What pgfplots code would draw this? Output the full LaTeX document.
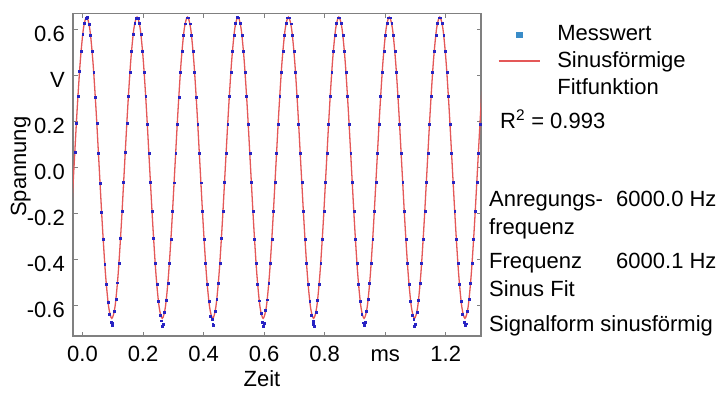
\documentclass[border=0pt]{standalone}
\usepackage{fontspec}
\setmainfont{Liberation Sans}
\usepackage{pgfplots}
\pgfplotsset{compat=1.18}
\definecolor{axgray}{RGB}{128,128,128}
\definecolor{fitred}{RGB}{228,88,88}
\definecolor{dotblue}{RGB}{40,35,195}
\definecolor{legsq}{RGB}{58,140,200}
\newcommand\f{\fontsize{22}{26}\selectfont}
\begin{document}
\begin{tikzpicture}
\useasboundingbox (0,0) rectangle (722pt,392pt);
\begin{axis}[
  at={(73pt,56pt)}, anchor=south west,
  width=408pt, height=322.5pt, scale only axis,
  xmin=-0.0314, xmax=1.3165, ymin=-0.7317, ymax=0.6704,
  xtick={0,0.2,0.4,0.6,0.8,1.0,1.2},
  xticklabels={0.0,0.2,0.4,0.6,0.8,ms,1.2},
  ytick={-0.6,-0.4,-0.2,0,0.2,0.4,0.6},
  yticklabels={-0.6,-0.4,-0.2,0.0,0.2,V,0.6},
  tick align=inside, major tick length=4.5pt,
  axis line style={draw=axgray, line width=1.4pt},
  every tick/.style={axgray, line width=1pt},
  ticklabel style={font=\f, text=black, inner sep=0pt},
  yticklabel style={xshift=-8pt, yshift=-4pt, text height=15.75pt, text depth=0pt},
  xticklabel style={yshift=-9pt, text height=16pt, text depth=0pt},
  legend style={at={(1.0417,0.9566)}, anchor=north west, draw=none, fill=none,
    inner sep=0pt, outer sep=0pt, row sep=0pt, font=\f,
    nodes={inner sep=0pt, text height=13.5pt, text depth=13.5pt},
    /tikz/every odd column/.append style={column sep=17pt}},
  legend cell align=left,
]
\addplot[fitred, line width=1.3pt, smooth, forget plot] coordinates {
(-0.0386,-0.2507) (-0.0282,0) (-0.0178,0.2507) (-0.0073,0.4632) (0.0031,0.6051)
(0.0135,0.655) (0.0239,0.6051) (0.0343,0.4632) (0.0448,0.2507) (0.0552,0) (0.0656,-0.2507) (0.0760,-0.4632) (0.0864,-0.6051) (0.0968,-0.655) (0.1073,-0.6051) (0.1177,-0.4632) (0.1281,-0.2507) (0.1385,0) (0.1489,0.2507) (0.1593,0.4632) (0.1698,0.6051)
(0.1802,0.655) (0.1906,0.6051) (0.2010,0.4632) (0.2114,0.2507) (0.2218,0) (0.2323,-0.2507) (0.2427,-0.4632) (0.2531,-0.6051) (0.2635,-0.655) (0.2739,-0.6051) (0.2843,-0.4632) (0.2948,-0.2507) (0.3052,0) (0.3156,0.2507) (0.3260,0.4632) (0.3364,0.6051)
(0.3468,0.655) (0.3573,0.6051) (0.3677,0.4632) (0.3781,0.2507) (0.3885,0) (0.3989,-0.2507) (0.4093,-0.4632) (0.4198,-0.6051) (0.4302,-0.655) (0.4406,-0.6051) (0.4510,-0.4632) (0.4614,-0.2507) (0.4718,0) (0.4823,0.2507) (0.4927,0.4632) (0.5031,0.6051)
(0.5135,0.655) (0.5239,0.6051) (0.5343,0.4632) (0.5448,0.2507) (0.5552,0) (0.5656,-0.2507) (0.5760,-0.4632) (0.5864,-0.6051) (0.5968,-0.655) (0.6073,-0.6051) (0.6177,-0.4632) (0.6281,-0.2507) (0.6385,0) (0.6489,0.2507) (0.6593,0.4632) (0.6698,0.6051)
(0.6802,0.655) (0.6906,0.6051) (0.7010,0.4632) (0.7114,0.2507) (0.7218,0) (0.7323,-0.2507) (0.7427,-0.4632) (0.7531,-0.6051) (0.7635,-0.655) (0.7739,-0.6051) (0.7843,-0.4632) (0.7948,-0.2507) (0.8052,0) (0.8156,0.2507) (0.8260,0.4632) (0.8364,0.6051)
(0.8468,0.655) (0.8573,0.6051) (0.8677,0.4632) (0.8781,0.2507) (0.8885,0) (0.8989,-0.2507) (0.9093,-0.4632) (0.9198,-0.6051) (0.9302,-0.655) (0.9406,-0.6051) (0.9510,-0.4632) (0.9614,-0.2507) (0.9718,0) (0.9823,0.2507) (0.9927,0.4632) (1.0031,0.6051)
(1.0135,0.655) (1.0239,0.6051) (1.0343,0.4632) (1.0448,0.2507) (1.0552,0) (1.0656,-0.2507) (1.0760,-0.4632) (1.0864,-0.6051) (1.0968,-0.655) (1.1073,-0.6051) (1.1177,-0.4632) (1.1281,-0.2507) (1.1385,0) (1.1489,0.2507) (1.1593,0.4632) (1.1698,0.6051)
(1.1802,0.655) (1.1906,0.6051) (1.2010,0.4632) (1.2114,0.2507) (1.2218,0) (1.2323,-0.2507) (1.2427,-0.4632) (1.2531,-0.6051) (1.2635,-0.655) (1.2739,-0.6051) (1.2843,-0.4632) (1.2948,-0.2507) (1.3052,0) (1.3156,0.2507) (1.3260,0.4632)
};
\addplot[only marks, mark=square*, mark size=0.95pt, dotblue, forget plot] coordinates {
(-0.0256,0.066) (-0.0204,0.192) (-0.0151,0.311) (-0.0099,0.418) (-0.0047,0.505) (0.0005,0.580) (0.0057,0.628) (0.0109,0.650)
(0.0161,0.653) (0.0213,0.625) (0.0265,0.575) (0.0317,0.508) (0.0369,0.414) (0.0421,0.306) (0.0474,0.192) (0.0526,0.062) (0.0578,-0.066) (0.0630,-0.192) (0.0682,-0.310) (0.0734,-0.418) (0.0786,-0.508) (0.0838,-0.585) (0.0890,-0.635) (0.0942,-0.670) (0.0968,-0.684) (0.0994,-0.676) (0.1046,-0.622) (0.1099,-0.570) (0.1151,-0.500) (0.1203,-0.414) (0.1255,-0.307) (0.1307,-0.188) (0.1359,-0.062) (0.1411,0.066) (0.1463,0.192) (0.1515,0.311) (0.1567,0.417) (0.1619,0.507) (0.1671,0.579) (0.1724,0.628) (0.1776,0.651)
(0.1828,0.651) (0.1880,0.628) (0.1932,0.579) (0.1984,0.505) (0.2036,0.417) (0.2088,0.310) (0.2140,0.189) (0.2192,0.065) (0.2244,-0.063) (0.2296,-0.191) (0.2349,-0.308) (0.2401,-0.415) (0.2453,-0.507) (0.2505,-0.582) (0.2557,-0.640) (0.2609,-0.665) (0.2635,-0.688) (0.2661,-0.680) (0.2713,-0.630) (0.2765,-0.575) (0.2817,-0.503) (0.2869,-0.417) (0.2921,-0.310) (0.2974,-0.190) (0.3026,-0.065) (0.3078,0.063) (0.3130,0.189) (0.3182,0.308) (0.3234,0.415) (0.3286,0.506) (0.3338,0.577) (0.3390,0.626) (0.3442,0.652)
(0.3494,0.652) (0.3546,0.626) (0.3599,0.577) (0.3651,0.507) (0.3703,0.415) (0.3755,0.308) (0.3807,0.191) (0.3859,0.063) (0.3911,-0.065) (0.3963,-0.189) (0.4015,-0.309) (0.4067,-0.417) (0.4119,-0.505) (0.4171,-0.580) (0.4224,-0.645) (0.4276,-0.660) (0.4302,-0.682) (0.4328,-0.686) (0.4380,-0.625) (0.4432,-0.572) (0.4484,-0.502) (0.4536,-0.415) (0.4588,-0.308) (0.4640,-0.191) (0.4692,-0.063) (0.4744,0.065) (0.4796,0.191) (0.4849,0.310) (0.4901,0.416) (0.4953,0.505) (0.5005,0.578) (0.5057,0.627) (0.5109,0.653)
(0.5161,0.652) (0.5213,0.627) (0.5265,0.578) (0.5317,0.506) (0.5369,0.416) (0.5421,0.309) (0.5474,0.190) (0.5526,0.064) (0.5578,-0.064) (0.5630,-0.190) (0.5682,-0.309) (0.5734,-0.416) (0.5786,-0.506) (0.5838,-0.578) (0.5890,-0.632) (0.5942,-0.672) (0.5968,-0.690) (0.5994,-0.675) (0.6046,-0.620) (0.6099,-0.574) (0.6151,-0.504) (0.6203,-0.416) (0.6255,-0.309) (0.6307,-0.190) (0.6359,-0.064) (0.6411,0.064) (0.6463,0.190) (0.6515,0.309) (0.6567,0.416) (0.6619,0.506) (0.6671,0.578) (0.6724,0.627) (0.6776,0.652)
(0.6828,0.652) (0.6880,0.626) (0.6932,0.578) (0.6984,0.507) (0.7036,0.416) (0.7088,0.309) (0.7140,0.190) (0.7192,0.064) (0.7244,-0.064) (0.7296,-0.190) (0.7349,-0.309) (0.7401,-0.416) (0.7453,-0.506) (0.7505,-0.580) (0.7557,-0.640) (0.7609,-0.668) (0.7635,-0.680) (0.7661,-0.688) (0.7713,-0.628) (0.7765,-0.576) (0.7817,-0.505) (0.7869,-0.416) (0.7921,-0.309) (0.7974,-0.190) (0.8026,-0.064) (0.8078,0.064) (0.8130,0.190) (0.8182,0.309) (0.8234,0.416) (0.8286,0.506) (0.8338,0.578) (0.8390,0.627) (0.8442,0.652)
(0.8494,0.652) (0.8546,0.627) (0.8599,0.578) (0.8651,0.506) (0.8703,0.416) (0.8755,0.309) (0.8807,0.190) (0.8859,0.064) (0.8911,-0.064) (0.8963,-0.190) (0.9015,-0.309) (0.9067,-0.416) (0.9119,-0.506) (0.9171,-0.580) (0.9224,-0.636) (0.9276,-0.674) (0.9302,-0.686) (0.9328,-0.670) (0.9380,-0.624) (0.9432,-0.573) (0.9484,-0.504) (0.9536,-0.416) (0.9588,-0.309) (0.9640,-0.190) (0.9692,-0.064) (0.9744,0.064) (0.9796,0.190) (0.9849,0.309) (0.9901,0.416) (0.9953,0.506) (1.0005,0.578) (1.0057,0.627) (1.0109,0.652)
(1.0161,0.652) (1.0213,0.627) (1.0265,0.578) (1.0317,0.506) (1.0369,0.416) (1.0421,0.309) (1.0474,0.190) (1.0526,0.064) (1.0578,-0.064) (1.0630,-0.190) (1.0682,-0.309) (1.0734,-0.416) (1.0786,-0.506) (1.0838,-0.581) (1.0890,-0.642) (1.0942,-0.660) (1.0968,-0.690) (1.0994,-0.682) (1.1046,-0.630) (1.1099,-0.575) (1.1151,-0.504) (1.1203,-0.416) (1.1255,-0.309) (1.1307,-0.190) (1.1359,-0.064) (1.1411,0.064) (1.1463,0.190) (1.1515,0.309) (1.1567,0.416) (1.1619,0.506) (1.1671,0.578) (1.1724,0.627) (1.1776,0.652)
(1.1828,0.652) (1.1880,0.627) (1.1932,0.578) (1.1984,0.506) (1.2036,0.416) (1.2088,0.309) (1.2140,0.190) (1.2192,0.064) (1.2244,-0.064) (1.2296,-0.190) (1.2349,-0.309) (1.2401,-0.416) (1.2453,-0.506) (1.2505,-0.580) (1.2557,-0.638) (1.2609,-0.670) (1.2635,-0.684) (1.2661,-0.678) (1.2713,-0.622) (1.2765,-0.572) (1.2817,-0.504) (1.2869,-0.416) (1.2921,-0.309) (1.2974,-0.190) (1.3026,-0.064) (1.3078,0.064) (1.3130,0.190)
};
\addlegendimage{legend image code/.code={\fill[legsq] (18pt,3.5pt) rectangle (23.5pt,9pt);}}
\addlegendentry{Messwert}
\addlegendimage{legend image code/.code={\draw[fitred, line width=1.3pt] (0pt,7pt) -- (41pt,7pt);}}
\addlegendentry{Sinusförmige}
\addlegendimage{empty legend}
\addlegendentry{Fitfunktion}
\end{axis}
\begin{scope}[every node/.style={font=\f, inner sep=0pt, text=black}]
\node[anchor=base, rotate=90] at (26pt,225.3pt) {Spannung};
\node[anchor=base] at (262pt,6pt) {Zeit};
\node[anchor=base west] at (500pt,264pt) {R\textsuperscript{2} = 0.993};
\node[anchor=base west] at (489pt,186pt) {Anregungs-};
\node[anchor=base west] at (616pt,186pt) {6000.0 Hz};
\node[anchor=base west] at (489pt,157.5pt) {frequenz};
\node[anchor=base west] at (489pt,123.5pt) {Frequenz};
\node[anchor=base west] at (616pt,123.5pt) {6000.1 Hz};
\node[anchor=base west] at (489pt,95.5pt) {Sinus Fit};
\node[anchor=base west] at (489pt,60.5pt) {Signalform sinusförmig};
\end{scope}
\end{tikzpicture}
\end{document}
